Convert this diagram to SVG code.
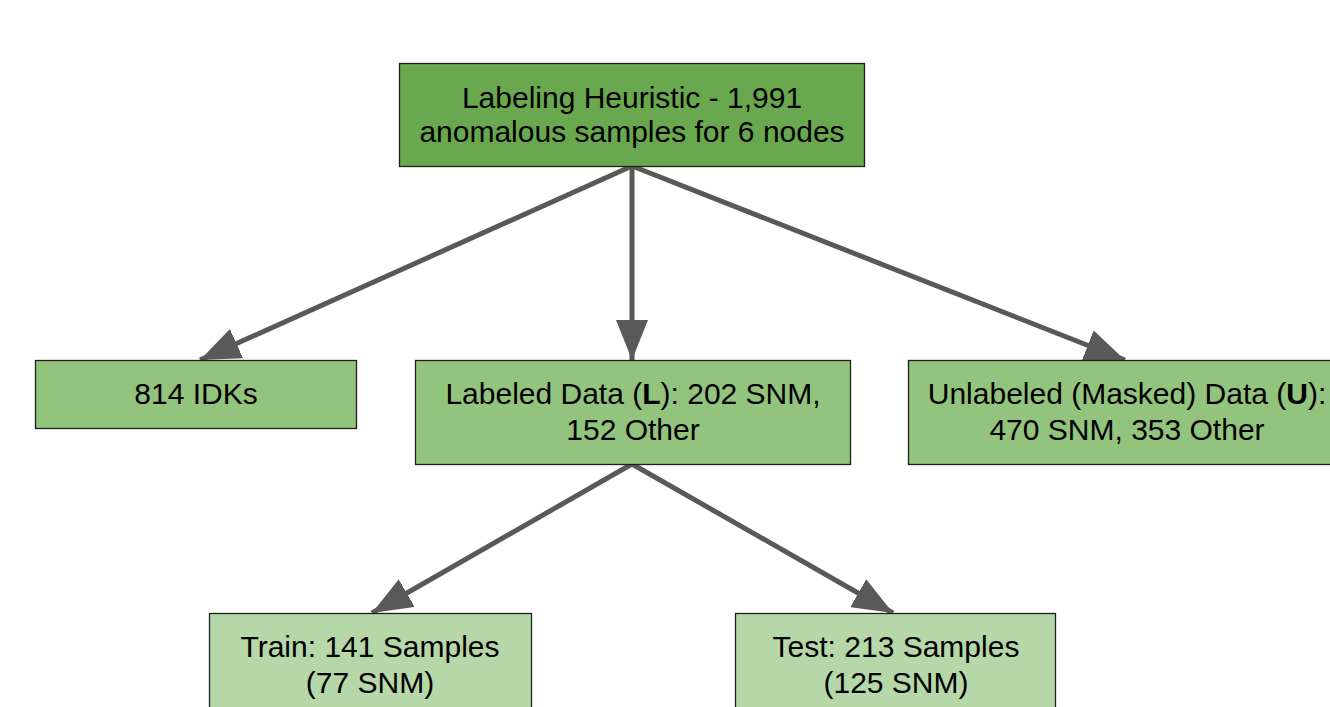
<svg xmlns="http://www.w3.org/2000/svg" width="1330" height="707" viewBox="0 0 1330 707">
  <style>
    .box { stroke: #1f1f1f; stroke-width: 1.3; }
    .dark { fill: #6aa84f; }
    .mid { fill: #93c47d; }
    .light { fill: #b6d7a8; }
    text { font-family: "Liberation Sans", Arial, sans-serif; font-size: 30px; fill: #000; text-anchor: middle; }
    .edge { stroke: #595959; stroke-width: 5; fill: none; marker-end: url(#head); }
  </style>
  <defs>
    <marker id="head" markerUnits="userSpaceOnUse" markerWidth="42" markerHeight="32" refX="40" refY="16" orient="auto">
      <path d="M0,0 L40,16 L0,32 Z" fill="#595959"/>
    </marker>
  </defs>
  <rect width="1330" height="707" fill="#fff"/>

  <g id="connectors">
    <line class="edge" x1="632" y1="166" x2="200" y2="360"/>
    <line class="edge" x1="632" y1="166" x2="632" y2="360"/>
    <line class="edge" x1="632" y1="166" x2="1125" y2="360"/>
    <line class="edge" x1="632" y1="464" x2="372" y2="613"/>
    <line class="edge" x1="632" y1="464" x2="893" y2="613"/>
  </g>

  <g id="heuristic">
    <rect class="box dark" x="399.5" y="63.5" width="465" height="103"/>
    <text x="632" y="108">Labeling Heuristic - 1,991</text>
    <text x="632" y="142">anomalous samples for 6 nodes</text>
  </g>

  <g id="idks">
    <rect class="box mid" x="35.5" y="360.5" width="321" height="68"/>
    <text x="196" y="404">814 IDKs</text>
  </g>

  <g id="labeled">
    <rect class="box mid" x="415.5" y="360.5" width="435" height="104"/>
    <text x="633" y="404">Labeled Data (<tspan font-weight="bold">L</tspan>): 202 SNM,</text>
    <text x="633" y="440">152 Other</text>
  </g>

  <g id="unlabeled">
    <rect class="box mid" x="908.5" y="360.5" width="440" height="104"/>
    <text x="1127" y="404">Unlabeled (Masked) Data (<tspan font-weight="bold">U</tspan>):</text>
    <text x="1127" y="440">470 SNM, 353 Other</text>
  </g>

  <g id="train">
    <rect class="box light" x="209.5" y="613.5" width="322" height="110"/>
    <text x="370" y="657">Train: 141 Samples</text>
    <text x="370" y="693">(77 SNM)</text>
  </g>

  <g id="test">
    <rect class="box light" x="735.5" y="613.5" width="320" height="110"/>
    <text x="896" y="657">Test: 213 Samples</text>
    <text x="896" y="693">(125 SNM)</text>
  </g>
</svg>
